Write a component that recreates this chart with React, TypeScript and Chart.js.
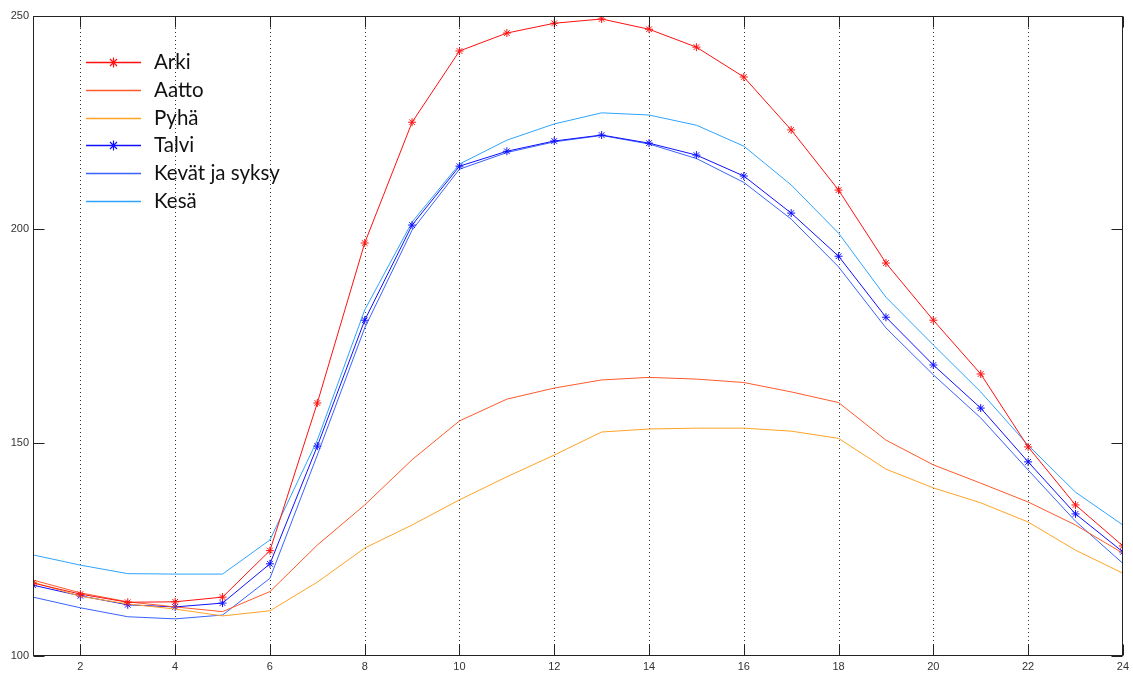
import React, { useEffect, useRef } from "react";
import { Chart, registerables } from "chart.js";

Chart.register(...registerables);

const hours = [1, 2, 3, 4, 5, 6, 7, 8, 9, 10, 11, 12, 13, 14, 15, 16, 17, 18, 19, 20, 21, 22, 23, 24];
const arki = [117.1, 114.5, 112.6, 112.7, 113.8, 124.7, 159.3, 196.8, 225.1, 241.8, 246.0, 248.3, 249.3, 246.9, 242.7, 235.7, 223.3, 209.2, 192.1, 178.7, 166.1, 149.0, 135.4, 125.8];
const aatto = [117.8, 114.8, 112.7, 111.5, 110.4, 115.1, 126.0, 135.4, 146.0, 155.1, 160.2, 162.8, 164.7, 165.3, 164.9, 164.1, 161.9, 159.4, 150.6, 144.8, 140.5, 136.1, 130.7, 124.1];
const pyha = [117.3, 114.0, 112.2, 111.0, 109.4, 110.6, 117.3, 125.3, 130.7, 136.6, 142.0, 147.1, 152.5, 153.2, 153.4, 153.4, 152.7, 151.0, 143.8, 139.4, 135.9, 131.4, 124.8, 119.4];
const talvi = [116.6, 114.1, 112.0, 111.5, 112.4, 121.6, 149.2, 178.7, 201.0, 214.8, 218.3, 220.7, 222.1, 220.2, 217.4, 212.5, 203.8, 193.7, 179.4, 168.2, 158.1, 145.5, 133.3, 124.4];
const kevatSyksy = [113.8, 111.3, 109.2, 108.7, 109.6, 118.2, 147.1, 176.9, 199.8, 214.1, 218.0, 220.5, 222.0, 220.0, 216.6, 211.0, 202.4, 191.2, 176.9, 165.9, 155.8, 143.6, 131.6, 121.7];
const kesa = [123.7, 121.3, 119.3, 119.2, 119.2, 127.2, 150.6, 181.1, 201.7, 215.3, 220.9, 224.7, 227.3, 226.8, 224.4, 219.5, 210.4, 199.1, 184.1, 172.9, 161.9, 149.4, 138.4, 130.7];

const seriesLabels = ["Arki", "Aatto", "Pyhä", "Talvi", "Kevät ja syksy", "Kesä"];
const seriesValues = [arki, aatto, pyha, talvi, kevatSyksy, kesa];
const seriesColors = ["#ff1010", "#ff5a2a", "#ffa326", "#1010ff", "#3a62ff", "#2ea4ff"];
const seriesMarkers = [true, false, false, true, false, false];

const xTicks = [2, 4, 6, 8, 10, 12, 14, 16, 18, 20, 22, 24];
const yTicks = [100, 150, 200, 250];

const framePlugin = {
  id: "matlabFrame",
  beforeDatasetsDraw(chart: any) {
    const { ctx, chartArea } = chart;
    const xs = chart.scales.x;
    ctx.save();
    ctx.strokeStyle = "#333";
    ctx.lineWidth = 1;
    ctx.setLineDash([1, 3]);
    for (const v of xTicks) {
      const px = Math.round(xs.getPixelForValue(v)) + 0.5;
      if (px >= chartArea.right - 1) continue;
      ctx.beginPath();
      ctx.moveTo(px, chartArea.top);
      ctx.lineTo(px, chartArea.bottom);
      ctx.stroke();
    }
    ctx.restore();
  },
  afterDatasetsDraw(chart: any) {
    const { ctx, chartArea } = chart;
    const xs = chart.scales.x;
    const ys = chart.scales.y;
    const L = Math.round(chartArea.left) + 0.5;
    const R = Math.round(chartArea.right) - 0.5;
    const T = Math.round(chartArea.top) + 0.5;
    const B = Math.round(chartArea.bottom) - 0.5;
    ctx.save();
    ctx.setLineDash([]);
    ctx.strokeStyle = "#222";
    ctx.lineWidth = 1;
    ctx.strokeRect(L, T, R - L, B - T);
    const tl = 11;
    ctx.beginPath();
    for (const v of xTicks) {
      const px = Math.round(xs.getPixelForValue(v)) + 0.5;
      ctx.moveTo(px, B);
      ctx.lineTo(px, B - tl);
      ctx.moveTo(px, T);
      ctx.lineTo(px, T + tl);
    }
    for (const v of yTicks) {
      const py = Math.round(ys.getPixelForValue(v)) + 0.5;
      ctx.moveTo(L, py);
      ctx.lineTo(L + tl, py);
      ctx.moveTo(R, py);
      ctx.lineTo(R - tl, py);
    }
    ctx.stroke();
    ctx.restore();
  },
  afterDraw(chart: any) {
    const { ctx } = chart;
    ctx.save();
    const x0 = 86;
    const x1 = 141;
    const tx = 154;
    let y = 62;
    const step = 27.8;
    chart.data.datasets.forEach((ds: any, i: number) => {
      const yy = Math.round(y) + 0.5;
      ctx.strokeStyle = ds.borderColor;
      ctx.lineWidth = 1.5;
      ctx.setLineDash([]);
      ctx.beginPath();
      ctx.moveTo(x0, yy);
      ctx.lineTo(x1, yy);
      ctx.stroke();
      if (seriesMarkers[i]) {
        const cx = (x0 + x1) / 2;
        const r = 5;
        ctx.lineWidth = 1.2;
        ctx.beginPath();
        ctx.moveTo(cx - r, yy);
        ctx.lineTo(cx + r, yy);
        ctx.moveTo(cx, yy - r);
        ctx.lineTo(cx, yy + r);
        const d = r * 0.7;
        ctx.moveTo(cx - d, yy - d);
        ctx.lineTo(cx + d, yy + d);
        ctx.moveTo(cx - d, yy + d);
        ctx.lineTo(cx + d, yy - d);
        ctx.stroke();
      }
      ctx.fillStyle = "#111";
      ctx.font = "20.5px Lato";
      ctx.textBaseline = "middle";
      ctx.textAlign = "left";
      ctx.fillText(ds.label, tx, yy);
      y += step;
    });
    ctx.restore();
  },
};

export default function App() {
  const ref = useRef<HTMLCanvasElement | null>(null);
  useEffect(() => {
    document.body.style.margin = "0";
    const canvas = ref.current;
    if (!canvas) return;
    const datasets = seriesLabels.map((label, i) => ({
      label,
      data: hours.map((h, j) => ({ x: h, y: seriesValues[i][j] })),
      borderColor: seriesColors[i],
      backgroundColor: seriesColors[i],
      borderWidth: 1,
      pointStyle: "star" as const,
      pointRadius: seriesMarkers[i] ? 4 : 0,
      pointBorderWidth: 1,
      pointBorderColor: seriesColors[i],
      tension: 0,
      fill: false,
    }));
    const chart = new Chart(canvas, {
      type: "line",
      data: { datasets },
      options: {
        responsive: false,
        animation: false,
        layout: { padding: { top: 16, right: 4, left: 0, bottom: 0 } },
        plugins: { legend: { display: false }, tooltip: { enabled: false } },
        scales: {
          x: {
            type: "linear",
            min: 1,
            max: 24,
            grid: { display: false, drawTicks: false },
            border: { display: false },
            afterBuildTicks: (s: any) => {
              s.ticks = xTicks.map((v) => ({ value: v }));
            },
            afterFit: (s: any) => {
              s.height = 17;
            },
            ticks: {
              autoSkip: false,
              maxRotation: 0,
              padding: 4,
              color: "#333",
              font: { family: "Liberation Sans", size: 11 },
            },
          },
          y: {
            type: "linear",
            min: 100,
            max: 250,
            grid: { display: false, drawTicks: false },
            border: { display: false },
            afterBuildTicks: (s: any) => {
              s.ticks = yTicks.map((v) => ({ value: v }));
            },
            afterFit: (s: any) => {
              s.width = 33;
            },
            ticks: {
              padding: 4,
              color: "#333",
              font: { family: "Liberation Sans", size: 11 },
            },
          },
        },
      },
      plugins: [framePlugin],
    });
    return () => chart.destroy();
  }, []);
  return <canvas ref={ref} width={1133} height={673} style={{ display: "block" }} />;
}
